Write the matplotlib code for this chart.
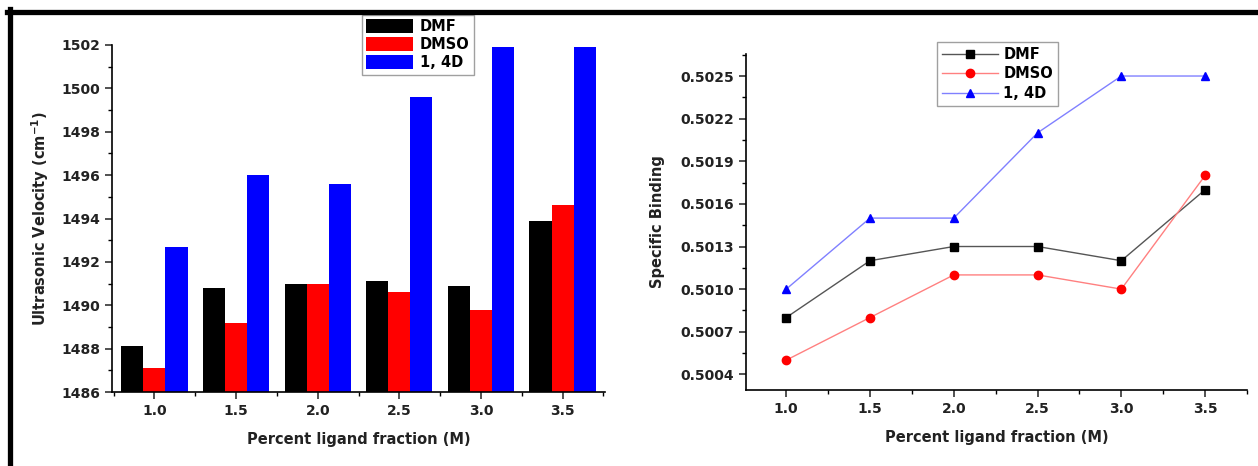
import numpy as np
import matplotlib
matplotlib.use("Agg")
import matplotlib.pyplot as plt
from matplotlib.ticker import MultipleLocator, FormatStrFormatter
from matplotlib.lines import Line2D

plt.rcParams['font.family'] = ['DejaVu Sans']
plt.rcParams['font.weight'] = 'bold'
plt.rcParams['mathtext.default'] = 'bf'

# data
fraction = [1.0, 1.5, 2.0, 2.5, 3.0, 3.5]
series = ['DMF', 'DMSO', '1, 4D']

velocity_dmf = [1488.1, 1490.8, 1491.0, 1491.1, 1490.9, 1493.9]
velocity_dmso = [1487.1, 1489.2, 1491.0, 1490.6, 1489.8, 1494.6]
velocity_14d = [1492.7, 1496.0, 1495.6, 1499.6, 1501.9, 1501.9]

binding_dmf = [0.5008, 0.5012, 0.5013, 0.5013, 0.5012, 0.5017]
binding_dmso = [0.5005, 0.5008, 0.5011, 0.5011, 0.5010, 0.5018]
binding_14d = [0.5010, 0.5015, 0.5015, 0.5021, 0.5025, 0.5025]

W, H = 1258, 466
fig = plt.figure(figsize=(W / 100, H / 100), dpi=100)

def style_axes(ax):
    for s in ['top', 'right']:
        ax.spines[s].set_visible(False)
    for s in ['left', 'bottom']:
        ax.spines[s].set_linewidth(1.2)
    ax.tick_params(which='major', direction='out', length=5, width=1.1,
                   labelsize=10, colors='#222222')
    ax.tick_params(which='minor', direction='out', length=3, width=1.0)
    for lab in ax.get_xticklabels() + ax.get_yticklabels():
        lab.set_fontweight('bold')

# ---- left: bar chart
ax1 = fig.add_axes([112 / W, 1 - 392 / H, (605 - 112) / W, (392 - 45) / H])
x = np.array(fraction)
bw = 0.135
colors = ['black', '#ff0000', '#0000ff']
for i, (vals, c) in enumerate(zip([velocity_dmf, velocity_dmso, velocity_14d], colors)):
    ax1.bar(x + (i - 1) * bw, np.array(vals) - 1486, bottom=1486, width=bw,
            color=c, edgecolor='none', label=series[i])
ax1.set_xlim(0.74, 3.76)
ax1.set_ylim(1486, 1502)
ax1.xaxis.set_major_locator(MultipleLocator(0.5))
ax1.xaxis.set_minor_locator(MultipleLocator(0.25))
ax1.yaxis.set_major_locator(MultipleLocator(2))
ax1.yaxis.set_minor_locator(MultipleLocator(1))
ax1.xaxis.set_major_formatter(FormatStrFormatter('%.1f'))
style_axes(ax1)
ax1.set_xlabel('Percent ligand fraction (M)', fontsize=10.5, fontweight='bold',
               labelpad=10, color='#222222')
ax1.set_ylabel('Ultrasonic Velocity (cm$^{-1}$)', fontsize=10.5,
               fontweight='bold', labelpad=7, color='#222222')
leg1 = ax1.legend(loc='upper left', bbox_to_anchor=(362 / W, 1 - 15 / H),
                  bbox_transform=fig.transFigure, fontsize=10.5, frameon=True,
                  fancybox=False, edgecolor='#888888', handlelength=3.2,
                  handleheight=1.1, handletextpad=0.45, borderpad=0.3,
                  labelspacing=0.2, borderaxespad=0)
leg1.get_frame().set_linewidth(1.0)

# ---- right: line chart
ax2 = fig.add_axes([746 / W, 1 - 390 / H, (1247 - 746) / W, (390 - 54) / H])
markers = ['s', 'o', '^']
line_colors = ['#555555', '#ff8080', '#8080ff']
for vals, c, lc, m in zip([binding_dmf, binding_dmso, binding_14d], colors, line_colors, markers):
    ax2.plot(fraction, vals, color=lc, lw=1.0, zorder=2)
    ax2.plot(fraction, vals, ls='none', marker=m, color=c, ms=6, zorder=3)
ax2.set_xlim(0.76, 3.75)
ax2.set_ylim(0.50029, 0.502655)
ax2.xaxis.set_major_locator(MultipleLocator(0.5))
ax2.xaxis.set_minor_locator(MultipleLocator(0.25))
ax2.yaxis.set_minor_locator(MultipleLocator(0.00015))
ax2.xaxis.set_major_formatter(FormatStrFormatter('%.1f'))
ax2.yaxis.set_major_formatter(FormatStrFormatter('%.4f'))
ax2.set_yticks([0.5004, 0.5007, 0.5010, 0.5013, 0.5016, 0.5019, 0.5022, 0.5025])
style_axes(ax2)
ax2.set_xlabel('Percent ligand fraction (M)', fontsize=10.5, fontweight='bold',
               labelpad=10, color='#222222')
ax2.set_ylabel('Specific Binding', fontsize=10.5, fontweight='bold',
               labelpad=11, color='#222222')
handles = [Line2D([], [], color=lc, lw=1.0, marker=m, mfc=c, mec=c, ms=6)
           for lc, m, c in zip(line_colors, markers, colors)]
leg2 = ax2.legend(handles, series, loc='upper left',
                  bbox_to_anchor=(937 / W, 1 - 42 / H),
                  bbox_transform=fig.transFigure, fontsize=10.5, frameon=True,
                  fancybox=False, edgecolor='#888888', handlelength=3.8,
                  handletextpad=0.4, borderpad=0.35, labelspacing=0.3,
                  borderaxespad=0)
leg2.get_frame().set_linewidth(1.0)

# black frame along top and left of the picture
fig.add_artist(Line2D([7 / W, 1.0], [1 - 11.5 / H, 1 - 11.5 / H],
                      transform=fig.transFigure, color='black', lw=3.8))
fig.add_artist(Line2D([9.5 / W, 9.5 / W], [0, 1 - 9 / H],
                      transform=fig.transFigure, color='black', lw=3.8))

fig.savefig('out.png', dpi=100)
